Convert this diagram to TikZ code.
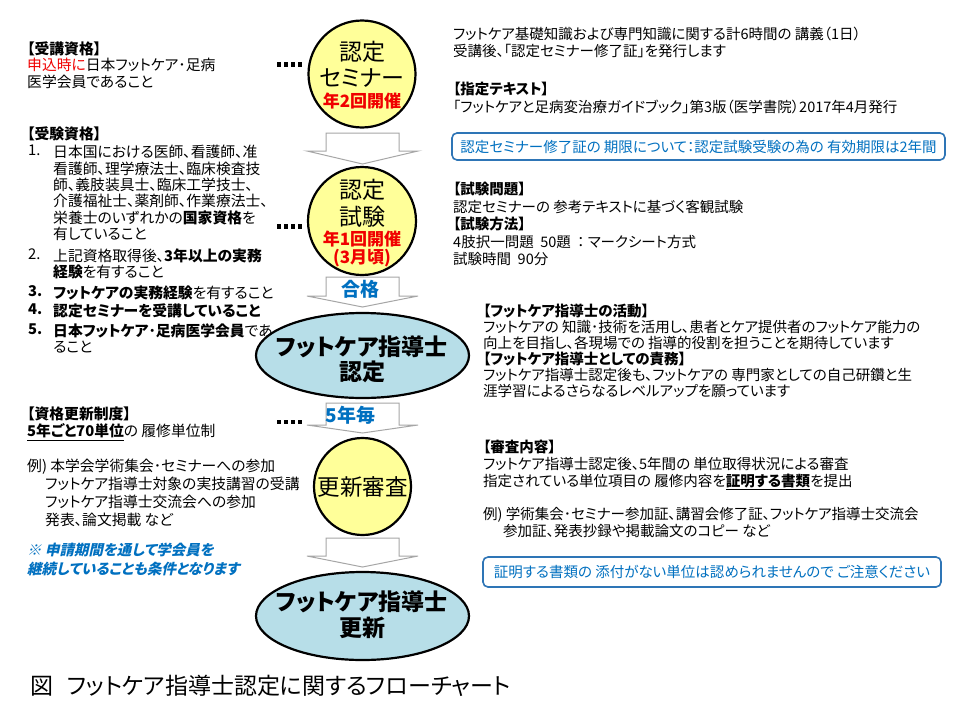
\documentclass[tikz,border=0pt]{standalone}
\usepackage{fontspec}
\setmainfont{Noto Sans CJK JP}[RawFeature=+palt, AutoFakeSlant=0.2]
\newfontfamily\slantfont{Noto Sans CJK JP}[RawFeature=+palt, FakeSlant=0.22]
\usetikzlibrary{shapes.geometric}
\definecolor{cyel}{HTML}{FFFF99}
\definecolor{cell}{HTML}{B7DEE8}
\definecolor{tblue}{HTML}{0070C0}
\definecolor{tred}{HTML}{F00000}
\definecolor{agray}{HTML}{A6A6A6}
\definecolor{bblue}{HTML}{2E75B6}
\newcommand\fsz[2]{\fontsize{#1}{#2}\selectfont}
\newcommand\blockarrow[3]{% top, head base, tip
  \draw[barrow] (326,#1) -- (399,#1) -- (399,#2) -- (418,#2) -- (362.5,#3) -- (307,#2) -- (326,#2) -- cycle;}
\tikzset{
  txt/.style={anchor=north west, inner sep=0pt, align=left, font=\fsz{14.5}{16.3}},
  ltxt/.style={txt, font=\fsz{14.8}{16.3}},
  circnode/.style={circle, draw=black, line width=2.2pt, fill=cyel, inner sep=0pt},
  ellnode/.style={ellipse, draw=black, line width=2.2pt, fill=cell, inner sep=0pt, minimum width=213pt, minimum height=85pt},
  lbl/.style={inner sep=0pt, anchor=center},
  big/.style={lbl, font=\fsz{23}{26}},
  bigb/.style={lbl, font=\fsz{23}{26}\bfseries},
  redl/.style={lbl, font=\fsz{17}{20}\bfseries, text=tred},
  bluel/.style={lbl, font=\fsz{19}{22}\bfseries, text=tblue},
  barrow/.style={draw=agray, fill=white, line width=1pt, line join=miter},
  leader/.style={line width=4.3pt, dash pattern=on 4pt off 3pt},
  notebox/.style={draw=bblue, line width=1.6pt, rounded corners=5pt, inner sep=0pt, text=tblue, font=\fsz{14.5}{16}},
}
\begin{document}
\begin{tikzpicture}[x=1pt, y=-1pt]
\useasboundingbox (0,0) rectangle (960,720);
\fill[white] (0,0) rectangle (960,720);

% ---------------- block arrows ----------------
\blockarrow{133}{151}{164}
\blockarrow{277}{296}{307}
\blockarrow{403}{425}{433}
\blockarrow{538}{556}{567}
\node[bluel] (pass) at (360,289.5) {合格};
\node[bluel] (five) at (350.5,415.5) {5年毎};

% ---------------- circles / ellipses ----------------
\node[circnode, minimum size=107pt] (c1) at (362,74) {};
\node[big] (c1a) at (362,52) {認定};
\node[big] (c1b) at (362,78) {セミナー};
\node[redl] (c1c) at (362,101) {年2回開催};

\node[circnode, minimum size=108pt] (c2) at (362,221) {};
\node[big] (c2a) at (362,190) {認定};
\node[big] (c2b) at (362,217) {試験};
\node[redl] (c2c) at (362,239) {年1回開催};
\node[redl] (c2d) at (362,258) {(3月頃)};

\node[ellnode] (e1) at (362.5,355.5) {};
\node[bigb] (e1a) at (362,347) {フットケア指導士};
\node[bigb] (e1b) at (362,372) {認定};

\node[circnode, minimum size=97pt] (c3) at (362.5,486.5) {};
\node[lbl, font=\fsz{22.5}{26}] (c3a) at (362.5,486.5) {更新審査};

\node[ellnode, minimum height=88pt] (e2) at (362.5,616) {};
\node[bigb] (e2a) at (362,602) {フットケア指導士};
\node[bigb] (e2b) at (362,628) {更新};

% ---------------- leaders ----------------
\coordinate (l1s) at (277,64.5); \coordinate (l1e) at (302,64.5);
\coordinate (l2s) at (277,226.5); \coordinate (l2e) at (302,226.5);
\coordinate (l3s) at (277,422); \coordinate (l3e) at (302,422);
\draw[leader] (l1s) -- (l1e);
\draw[leader] (l2s) -- (l2e);
\draw[leader] (l3s) -- (l3e);

% ---------------- left column ----------------
\node[ltxt] (jk) at (27,41.7) {\textbf{【受講資格】}\\{\color{tred}申込時に}日本フットケア･足病\\医学会員であること};

\node[ltxt] (jh) at (27,126.7) {\textbf{【受験資格】}};
\node[ltxt] (n1) at (28,145.2) {1.};
\node[ltxt] (i1) at (53,145.2) {日本国における医師、看護師、准\\看護師、理学療法士、臨床検査技\\師、義肢装具士、臨床工学技士、\\介護福祉士、薬剤師、作業療法士、\\栄養士のいずれかの\textbf{国家資格}を\\有していること};
\node[ltxt] (n2) at (28,248.7) {2.};
\node[ltxt] (i2) at (53,248.7) {上記資格取得後、\textbf{3年以上の実務}\\\textbf{経験}を有すること};
\node[ltxt] (n3) at (28,285.2) {\textbf{3.}};
\node[ltxt] (i3) at (53,285.2) {\textbf{フットケアの実務経験}を有すること};
\node[ltxt] (n4) at (28,303.7) {\textbf{4.}};
\node[ltxt] (i4) at (53,303.7) {\textbf{認定セミナーを受講していること}};
\node[ltxt] (n5) at (28,323.7) {\textbf{5.}};
\node[ltxt] (i5) at (53,323.7) {\textbf{日本フットケア･足病医学会員}であ\\ること};

\node[ltxt] (kh) at (27,406.2) {\textbf{【資格更新制度】}};
\node[ltxt] (k1) at (27,423.7) {\underline{\textbf{5年ごと70単位}}の 履修単位制};
\node[ltxt] (k2) at (27,458.7) {例) 本学会学術集会･セミナーへの参加};
\node[txt, font=\fsz{14.8}{18}] (k3) at (45,476.7) {フットケア指導士対象の実技講習の受講\\フットケア指導士交流会への参加\\発表、論文掲載 など};
\node[txt, font=\slantfont\fsz{14.5}{19}\bfseries, text=tblue] (k4) at (27,542.7) {※ 申請期間を通して学会員を\\継続していることも条件となります};

% ---------------- right column ----------------
\node[txt, font=\fsz{14.5}{17}] (r1) at (453,26.7) {フットケア基礎知識および専門知識に関する計6時間の 講義（1日）\\受講後、「認定セミナー修了証」を発行します};
\node[txt, font=\fsz{14.5}{18.5}] (r2) at (453,81.7) {\textbf{【指定テキスト】}\\「フットケアと足病変治療ガイドブック」第3版（医学書院）2017年4月発行};
\node[notebox, minimum width=493pt, minimum height=27pt] (b1) at (698.5,146.5) {認定セミナー修了証の 期限について：認定試験受験の為の 有効期限は2年間};

\node[txt, font=\fsz{14.5}{17.4}] (r3) at (453,182.2) {\textbf{【試験問題】}\\認定セミナーの 参考テキストに基づく客観試験\\\textbf{【試験方法】}\\4肢択一問題\ \ 50題\ \ ：\ マークシート方式\\試験時間\ \ 90分};

\node[txt, font=\fsz{14.5}{16}] (r4) at (483,303.7) {\textbf{【フットケア指導士の活動】}\\フットケアの 知識･技術を活用し、患者とケア提供者のフットケア能力の\\向上を目指し、各現場での 指導的役割を担うことを期待しています\\\textbf{【フットケア指導士としての責務】}\\フットケア指導士認定後も、フットケアの 専門家としての自己研鑽と生\\涯学習によるさらなるレベルアップを願っています};

\node[txt, font=\fsz{14.5}{16.7}] (r5) at (483,440.2) {\textbf{【審査内容】}\\フットケア指導士認定後、5年間の 単位取得状況による審査\\指定されている単位項目の 履修内容を\underline{\textbf{証明する書類}}を提出};
\node[txt] (r6) at (483,506.7) {例) 学術集会･セミナー参加証、講習会修了証、フットケア指導士交流会};
\node[txt] (r7) at (503,523.7) {参加証、発表抄録や掲載論文のコピー など};
\node[notebox, minimum width=458pt, minimum height=30pt] (b2) at (712,572) {証明する書類の 添付がない単位は認められませんので ご注意ください};

% ---------------- caption ----------------
\node[txt, font=\fsz{23}{26}] (cap) at (30,674.5) {図\hspace{14pt}フットケア指導士認定に関するフローチャート};
\end{tikzpicture}
\end{document}
